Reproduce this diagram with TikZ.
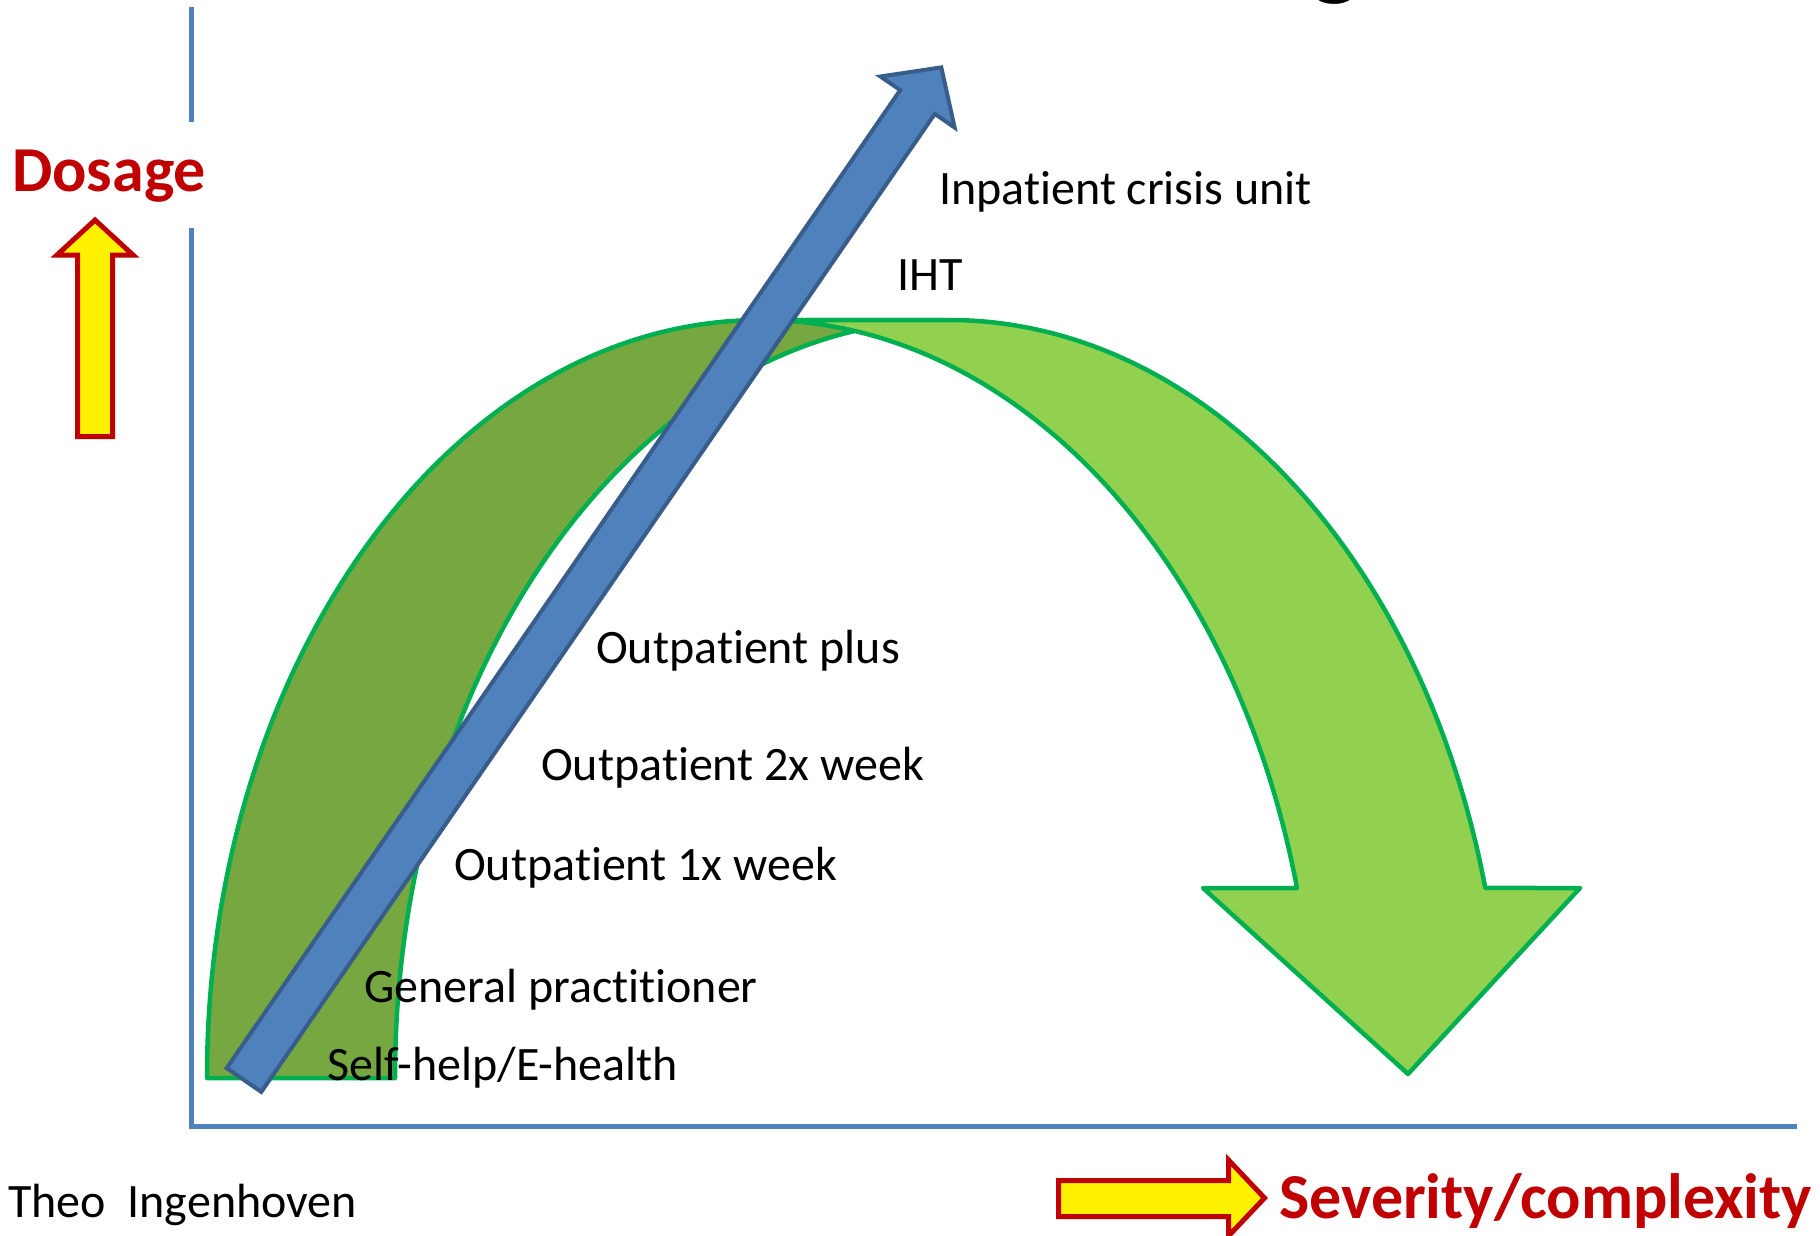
\documentclass[tikz,border=0pt]{standalone}
\usepackage{fontspec}
\setmainfont{Carlito}[Ligatures={NoCommon,NoRare},Contextuals={NoAlternate}]
\definecolor{axisblue}{HTML}{4F81BD}
\definecolor{arrowblue}{HTML}{4F81BD}
\definecolor{arrowedge}{HTML}{385D8A}
\definecolor{darkband}{HTML}{76A740}
\definecolor{lightband}{HTML}{92D050}
\definecolor{bandedge}{HTML}{00B050}
\definecolor{darkred}{HTML}{C00000}
\begin{document}
\begin{tikzpicture}[x=1pt,y=-1pt,
  axisline/.style={draw=axisblue, line width=5pt},
  bandshape/.style={draw=bandedge, line width=4.5pt, line join=round},
  blueshape/.style={fill=arrowblue, draw=arrowedge, line width=4pt, line join=miter},
  yellowshape/.style={fill=yellow, draw=darkred, line width=5pt, line join=miter},
  lbl/.style={anchor=base west, inner sep=0pt, font=\fontsize{48}{58}\selectfont},
  redlbl/.style={anchor=base west, inner sep=0pt, text=darkred, font=\fontsize{64}{76}\selectfont\bfseries},
  ell/.style={x radius=554, y radius=758}]

\useasboundingbox[fill=white] (0,0) rectangle (1820,1236);

% cut-off title fragment
\node[anchor=base, inner sep=0pt, font=\fontsize{110}{110}\selectfont] (titleg) at (1335,-14) {g};

% axes
\coordinate (vtop) at (191,7);
\coordinate (vgapa) at (191,122);
\coordinate (vgapb) at (191,228);
\coordinate (origin) at (191,1126);
\coordinate (xend) at (1797,1126);
\draw[axisline] (vtop) -- (vgapa);
\draw[axisline] (vgapb) -- (origin) -- (xend);

% back (dark) band of curved arrow
\path[bandshape, fill=darkband] (207,1078)
  arc[start angle=180, end angle=270, ell] -- (949,320)
  arc[start angle=270, end angle=180, ell] -- cycle;

% front (light) band with arrow head
\path[bandshape, fill=lightband] (761,320) -- (949,320)
  arc[start angle=270, end angle=345.48, ell]
  -- (1580,888) -- (1408,1074) -- (1203,888) -- (1297,888)
  arc[start angle=345.48, end angle=270, ell] -- cycle;

% blue diagonal arrow
\path[blueshape] (226.7,1068.1) -- (900.2,90.1) -- (880.4,76.5) -- (941.3,67.4)
  -- (954.6,127.5) -- (934.8,113.9) -- (261.3,1091.9) -- cycle;

% dosage arrow (up)
\path[yellowshape] (95,220) -- (133,255) -- (112.5,255) -- (112.5,436.5)
  -- (77.5,436.5) -- (77.5,255) -- (57,255) -- cycle;

% severity arrow (right)
\path[yellowshape] (1058.5,1180.5) -- (1228.5,1180.5) -- (1228.5,1160)
  -- (1264.5,1198) -- (1228.5,1236) -- (1228.5,1216.5) -- (1058.5,1216.5) -- cycle;

% texts
\node[redlbl] (dosage) at (12,191) {Dosage};
\node[redlbl] (severity) at (1279,1218) {Severity/complexity};
\node[lbl] (author) at (8,1217) {Theo\ \ Ingenhoven};
\node[lbl] (crisis) at (939,204) {Inpatient crisis unit};
\node[lbl] (iht) at (897,290) {IHT};
\node[lbl] (plus) at (596,663) {Outpatient plus};
\node[lbl] (twice) at (541,780) {Outpatient 2x week};
\node[lbl] (once) at (454,880) {Outpatient 1x week};
\node[lbl] (gp) at (364,1002) {General practitioner};
\node[lbl] (selfhelp) at (327,1080) {Self-help/E-health};
\end{tikzpicture}
\end{document}
